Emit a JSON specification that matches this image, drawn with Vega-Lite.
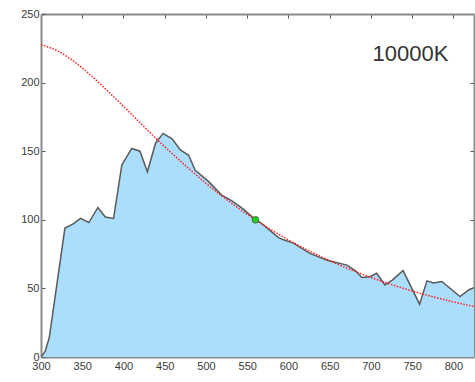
{
  "$schema": "https://vega.github.io/schema/vega-lite/v6.json",
  "width": 433,
  "height": 343,
  "autosize": {"type": "none"},
  "padding": {"left": 41, "top": 14, "right": 1, "bottom": 25},
  "background": "white",
  "config": {
    "view": {"stroke": null},
    "font": "Liberation Sans",
    "axis": {"grid": false, "domainColor": "#8a8a8a", "domainWidth": 2, "tickColor": "#555", "labelColor": "#3a3a3a", "labelFont": "Liberation Sans", "labelFontSize": 11, "labelFlush": false, "labelOverlap": false, "title": null}
  },
  "datasets": {
    "spd": [
      {"nm": 300, "v": 0}, {"nm": 305, "v": 4}, {"nm": 310, "v": 14}, {"nm": 329, "v": 94},
      {"nm": 339, "v": 97}, {"nm": 348, "v": 101}, {"nm": 358, "v": 98}, {"nm": 369, "v": 109},
      {"nm": 378, "v": 102}, {"nm": 388, "v": 101}, {"nm": 398, "v": 140}, {"nm": 410, "v": 152},
      {"nm": 420, "v": 150}, {"nm": 429, "v": 135}, {"nm": 439, "v": 156}, {"nm": 448, "v": 163},
      {"nm": 459, "v": 159}, {"nm": 469, "v": 151}, {"nm": 479, "v": 147}, {"nm": 487, "v": 136},
      {"nm": 503, "v": 128}, {"nm": 519, "v": 118}, {"nm": 531, "v": 114}, {"nm": 545, "v": 108},
      {"nm": 558, "v": 101}, {"nm": 566, "v": 98}, {"nm": 576, "v": 93}, {"nm": 588, "v": 87},
      {"nm": 594, "v": 85.5}, {"nm": 606, "v": 83}, {"nm": 626, "v": 75.5}, {"nm": 647, "v": 70.5},
      {"nm": 671, "v": 67}, {"nm": 681, "v": 63}, {"nm": 689, "v": 58}, {"nm": 699, "v": 58.5},
      {"nm": 707, "v": 61}, {"nm": 717, "v": 52.5}, {"nm": 726, "v": 56}, {"nm": 739, "v": 63},
      {"nm": 759, "v": 38.5}, {"nm": 768, "v": 55.5}, {"nm": 776, "v": 54}, {"nm": 786, "v": 55},
      {"nm": 808, "v": 44}, {"nm": 819, "v": 49}, {"nm": 825, "v": 50.5}
    ],
    "planck": [
      {"nm": 300, "v": 227.6}, {"nm": 320, "v": 223.1}, {"nm": 340, "v": 215.4}, {"nm": 360, "v": 205.5},
      {"nm": 380, "v": 194.4}, {"nm": 400, "v": 182.7}, {"nm": 420, "v": 170.8}, {"nm": 440, "v": 159.0},
      {"nm": 460, "v": 147.7}, {"nm": 480, "v": 136.9}, {"nm": 500, "v": 126.6}, {"nm": 520, "v": 117.1},
      {"nm": 540, "v": 108.2}, {"nm": 560, "v": 100.0}, {"nm": 580, "v": 92.4}, {"nm": 600, "v": 85.35},
      {"nm": 620, "v": 78.9}, {"nm": 640, "v": 73.0}, {"nm": 660, "v": 67.55}, {"nm": 680, "v": 62.57},
      {"nm": 700, "v": 58.0}, {"nm": 720, "v": 53.8}, {"nm": 740, "v": 49.95}, {"nm": 760, "v": 46.4},
      {"nm": 780, "v": 43.17}, {"nm": 800, "v": 40.19}, {"nm": 820, "v": 37.45}, {"nm": 825, "v": 36.8}
    ],
    "ref": [{"nm": 560, "v": 100}],
    "label": [{"nm": 748, "v": 221, "t": "10000K"}]
  },
  "layer": [
    {
      "data": {"name": "spd"},
      "mark": {"type": "area", "color": "#abdefc", "opacity": 1, "clip": true},
      "encoding": {
        "x": {"field": "nm", "type": "quantitative", "scale": {"domain": [300, 825], "nice": false, "zero": false},
              "axis": {"orient": "bottom", "values": [300, 350, 400, 450, 500, 550, 600, 650, 700, 750, 800], "ticks": false, "labelPadding": 3}},
        "y": {"field": "v", "type": "quantitative", "scale": {"domain": [0, 250], "nice": false},
              "axis": {"orient": "left", "values": [0, 50, 100, 150, 200, 250], "tickSize": -4, "labelPadding": 6}}
      }
    },
    {
      "data": {"name": "spd"},
      "mark": {"type": "line", "color": "#5a5a5a", "strokeWidth": 1.5, "clip": true},
      "encoding": {
        "x": {"field": "nm", "type": "quantitative", "axis": {"orient": "top", "values": [350, 400, 450, 500, 550, 600, 650, 700, 750, 800], "labels": false, "tickSize": -4}},
        "y": {"field": "v", "type": "quantitative", "axis": {"orient": "right", "values": [50, 100, 150, 200], "labels": false, "tickSize": -4}}
      }
    },
    {
      "data": {"name": "planck"},
      "mark": {"type": "line", "color": "#ff2020", "strokeWidth": 1.5, "strokeDash": [1.5, 1.5], "interpolate": "monotone", "clip": true},
      "encoding": {
        "x": {"field": "nm", "type": "quantitative", "axis": null},
        "y": {"field": "v", "type": "quantitative", "axis": null}
      }
    },
    {
      "data": {"name": "ref"},
      "mark": {"type": "point", "filled": true, "color": "#22cc22", "stroke": "#336633", "strokeWidth": 0.8, "size": 45, "opacity": 1},
      "encoding": {
        "x": {"field": "nm", "type": "quantitative", "axis": null},
        "y": {"field": "v", "type": "quantitative", "axis": null}
      }
    },
    {
      "data": {"name": "label"},
      "mark": {"type": "text", "fontSize": 22, "color": "#333", "align": "center", "baseline": "middle", "font": "Liberation Sans"},
      "encoding": {
        "x": {"field": "nm", "type": "quantitative", "axis": null},
        "y": {"field": "v", "type": "quantitative", "axis": null},
        "text": {"field": "t"}
      }
    }
  ],
  "resolve": {"axis": {"x": "independent", "y": "independent"}}
}
